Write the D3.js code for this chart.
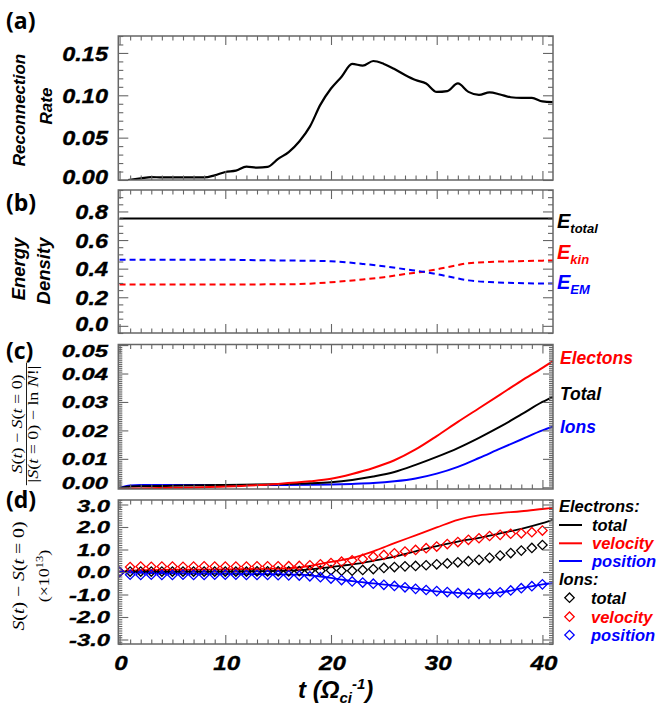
<!DOCTYPE html>
<html>
<head>
<meta charset="utf-8">
<script src="https://cdn.jsdelivr.net/npm/d3@7"></script>
<style>
  body { margin: 0; background: #fff; }
  text { font-family: "Liberation Sans", Arial, sans-serif; }
</style>
</head>
<body>
<div id="chart"></div>
<script>
// ---- values ----

// (a) reconnection rate
const rateTime = [0.8, 2, 3, 4, 5, 6, 7, 8, 9, 10, 11, 12, 13, 14, 15, 16, 17, 18, 19, 20, 21,
  22, 23, 24, 25, 26, 27, 28, 29, 30, 31, 32, 33, 34, 35, 36, 37, 38, 39, 40, 41];
const rateValue = [0, 0.002, 0.0035, 0.003, 0.003, 0.003, 0.003, 0.003, 0.0055, 0.0095, 0.011,
  0.0158, 0.0146, 0.0155, 0.025, 0.033, 0.0455, 0.063, 0.089, 0.108, 0.122, 0.137, 0.135,
  0.1405, 0.137, 0.131, 0.124, 0.118, 0.114, 0.104, 0.105, 0.114, 0.104, 0.1005, 0.1035,
  0.101, 0.0977, 0.097, 0.097, 0.0928, 0.092];

// (b) energy density
const energyTime = [0, 5, 10, 13, 16, 18, 20, 23, 25, 27, 29, 31, 33, 35, 37.5, 40, 41];
const energyTotal = [0.75, 0.75, 0.75, 0.75, 0.75, 0.75, 0.75, 0.75, 0.75, 0.75, 0.75, 0.75,
  0.75, 0.75, 0.75, 0.75, 0.75];
const energyKin = [0.29, 0.29, 0.29, 0.29, 0.291, 0.295, 0.305, 0.324, 0.34, 0.362, 0.382,
  0.41, 0.438, 0.447, 0.452, 0.456, 0.457];
const energyEM = [0.462, 0.462, 0.462, 0.459, 0.457, 0.455, 0.452, 0.433, 0.417, 0.396, 0.375,
  0.347, 0.318, 0.306, 0.3, 0.296, 0.296];

// (c) normalised entropy change
const entropyTime = [0, 1, 2, 5, 10, 15, 18, 20, 22, 24, 26, 28, 30, 32, 34, 36, 38, 40, 41];
const entropyElectrons = [-0.0006, -0.0005, -0.0004, -0.0002, 0.0003, 0.0012, 0.0021, 0.003,
  0.0047, 0.0068, 0.0095, 0.0133, 0.018, 0.023, 0.0278, 0.0326, 0.0374, 0.042, 0.0444];
const entropyTotal = [-0.0002, 0.0003, 0.0004, 0.0005, 0.0008, 0.0011, 0.0014, 0.0018, 0.0026,
  0.0038, 0.0054, 0.0079, 0.0107, 0.0138, 0.0174, 0.0213, 0.0256, 0.03, 0.0318];
const entropyIons = [-0.0002, 0.0006, 0.0008, 0.0008, 0.0008, 0.0008, 0.0009, 0.001, 0.0012,
  0.0015, 0.0021, 0.0031, 0.0048, 0.0072, 0.0103, 0.0136, 0.0168, 0.02, 0.0213];

// (d) entropy change, electrons (lines)
const elecTime = [0, 2, 5, 10, 15, 17, 18, 19, 20, 21, 22, 24, 26, 28, 30, 32, 34, 36, 38, 40, 41];
const elecTotal = [0, 0, 0.01, 0.02, 0.05, 0.08, 0.12, 0.17, 0.22, 0.28, 0.34, 0.5, 0.68, 0.92,
  1.15, 1.35, 1.52, 1.72, 1.92, 2.17, 2.32];
const elecVelocity = [0, 0.08, 0.1, 0.12, 0.15, 0.2, 0.27, 0.36, 0.45, 0.53, 0.63, 0.92, 1.28,
  1.63, 1.98, 2.32, 2.52, 2.62, 2.7, 2.8, 2.85];
const elecPosition = [0, -0.04, -0.06, -0.08, -0.1, -0.12, -0.15, -0.2, -0.26, -0.34, -0.41,
  -0.51, -0.61, -0.74, -0.86, -0.93, -0.97, -0.91, -0.73, -0.55, -0.5];

// (d) entropy change, ions (diamonds)
const ionTime = [0, 1, 2, 3, 4, 5, 6, 7, 8, 9, 10, 11, 12, 13, 14, 15, 16, 17, 18, 19, 20,
  21, 22, 23, 24, 25, 26, 27, 28, 29, 30, 31, 32, 33, 34, 35, 36, 37, 38, 39, 40];
const ionTotal = [0, 0.02, 0.02, 0.02, 0.02, 0.02, 0.02, 0.02, 0.02, 0.02, 0.02, 0.02, 0.02,
  0.03, 0.03, 0.03, 0.03, 0.04, 0.05, 0.06, 0.08, 0.06, 0.06, 0.09, 0.13, 0.18, 0.22, 0.25,
  0.27, 0.3, 0.34, 0.38, 0.43, 0.48, 0.54, 0.63, 0.73, 0.84, 0.95, 1.07, 1.2];
const ionVelocity = [0, 0.22, 0.24, 0.23, 0.24, 0.24, 0.23, 0.24, 0.25, 0.24, 0.24, 0.24, 0.24,
  0.25, 0.25, 0.25, 0.26, 0.27, 0.3, 0.34, 0.4, 0.46, 0.52, 0.58, 0.68, 0.76, 0.83, 0.91, 0.98,
  1.06, 1.13, 1.24, 1.33, 1.43, 1.5, 1.6, 1.65, 1.7, 1.72, 1.77, 1.84];
const ionPosition = [0, -0.12, -0.13, -0.12, -0.13, -0.13, -0.12, -0.13, -0.13, -0.12, -0.12,
  -0.12, -0.13, -0.13, -0.13, -0.14, -0.15, -0.16, -0.19, -0.23, -0.29, -0.36, -0.42, -0.47,
  -0.52, -0.57, -0.62, -0.68, -0.75, -0.8, -0.85, -0.89, -0.93, -0.96, -0.97, -0.95, -0.9,
  -0.82, -0.72, -0.63, -0.55];

// tick values and labels
const timeTicks = [0, 10, 20, 30, 40];
const timeTickLabels = ['0', '10', '20', '30', '40'];
const rateTicks = [0, 0.05, 0.1, 0.15];
const rateTickLabels = ['0.00', '0.05', '0.10', '0.15'];
const energyTicks = [0, 0.2, 0.4, 0.6, 0.8];
const energyTickLabels = ['0.0', '0.2', '0.4', '0.6', '0.8'];
const entropyTicks = [0, 0.01, 0.02, 0.03, 0.04, 0.05];
const entropyTickLabels = ['0.00', '0.01', '0.02', '0.03', '0.04', '0.05'];
const splitTicks = [-3, -2, -1, 0, 1, 2, 3];
const splitTickLabels = ['-3.0', '-2.0', '-1.0', '0.0', '1.0', '2.0', '3.0'];

// ---- layout ----
const width = 661, height = 706;
const plotLeft = 118.3, plotRight = 553;
const frameColor = '#666';
const labelFont = (size) => `italic bold ${size}px "Liberation Sans", Arial, sans-serif`;

const svg = d3.select('#chart').append('svg')
  .attr('width', width)
  .attr('height', height);

// common time axis
const x = d3.scaleLinear().domain([-0.12, 41]).range([plotLeft, plotRight]);
const xMinor = d3.range(1, 41).filter(v => v % 10 !== 0);

// Build one panel: scale, clipped plot group, then ticks and frame on top
function makePanel(p) {
  const y = d3.scaleLinear().domain(p.domain).range([p.bottom, p.top]);
  const g = svg.append('g');

  svg.append('clipPath').attr('id', 'clip-' + p.id)
    .append('rect')
    .attr('x', plotLeft).attr('y', p.top)
    .attr('width', plotRight - plotLeft).attr('height', p.bottom - p.top);

  const plot = g.append('g').attr('clip-path', `url(#clip-${p.id})`);
  const over = g.append('g');

  // draws the ticks after the data is in
  function finish() {
    const ticks = over.append('g').attr('color', frameColor);
    const add = (axis, tx, ty) => ticks.append('g')
      .attr('transform', `translate(${tx},${ty})`)
      .call(axis)
      .call(s => s.select('.domain').remove())
      .call(s => s.selectAll('text').remove())
      .call(s => s.selectAll('line').attr('stroke-width', 1.1));

    add(d3.axisBottom(x).tickValues(timeTicks).tickSize(-9).tickFormat(''), 0, p.bottom);
    add(d3.axisBottom(x).tickValues(xMinor).tickSize(-4.5).tickFormat(''), 0, p.bottom);
    add(d3.axisTop(x).tickValues(timeTicks).tickSize(-9).tickFormat(''), 0, p.top);
    add(d3.axisTop(x).tickValues(xMinor).tickSize(-4.5).tickFormat(''), 0, p.top);

    add(d3.axisLeft(y).tickValues(p.ticks).tickSize(-10).tickFormat(''), plotLeft, 0);
    add(d3.axisLeft(y).tickValues(p.minor).tickSize(-p.minorLen).tickFormat(''), plotLeft, 0);
    add(d3.axisRight(y).tickValues(p.ticks).tickSize(-10).tickFormat(''), plotRight, 0);
    add(d3.axisRight(y).tickValues(p.minor).tickSize(-p.minorLen).tickFormat(''), plotRight, 0);

    over.append('rect')
      .attr('x', plotLeft).attr('y', p.top)
      .attr('width', plotRight - plotLeft).attr('height', p.bottom - p.top)
      .attr('fill', 'none')
      .attr('stroke', frameColor)
      .attr('stroke-width', 1.5);

    // y tick labels, bold italic, a little wider than the plain font,
    // pulled inside the frame at the ends so neighbouring panels don't collide
    const labelY = d => Math.max(p.top + p.padTop, Math.min(p.bottom - p.padBottom, y(d)));
    over.selectAll('text.ylab')
      .data(p.ticks)
      .join('text')
      .attr('class', 'ylab')
      .attr('text-anchor', 'end')
      .attr('transform', d => `translate(${p.labelX},${labelY(d) + p.fontSize * 0.36}) scale(${p.stretch},1)`)
      .attr('stroke', '#000')
      .attr('stroke-width', 0.35)
      .style('font', labelFont(p.fontSize))
      .text((d, i) => p.labels[i]);
  }

  return { y, plot, finish };
}

function drawLine(plot, y, xs, ys, color, w, dash) {
  const line = d3.line()
    .x((d, i) => x(xs[i]))
    .y(d => y(d))
    .curve(d3.curveMonotoneX);
  plot.append('path')
    .datum(ys)
    .attr('d', line)
    .attr('fill', 'none')
    .attr('stroke', color)
    .attr('stroke-width', w)
    .attr('stroke-dasharray', dash || null);
}

// ---- (a) reconnection rate ----
const pa = makePanel({
  id: 'a', top: 36, bottom: 180, domain: [0, 0.17],
  ticks: rateTicks, labels: rateTickLabels,
  minor: d3.range(1, 18).filter(i => i % 5 !== 0).map(i => i * 0.01), minorLen: 5,
  labelX: 108, fontSize: 21, stretch: 1.12, padTop: 0, padBottom: 3.5
});
drawLine(pa.plot, pa.y, rateTime, rateValue, '#000', 2.2);
pa.finish();

// ---- (b) energy density ----
const pb = makePanel({
  id: 'b', top: 190, bottom: 333, domain: [-0.05, 0.95],
  ticks: energyTicks, labels: energyTickLabels,
  minor: d3.range(-1, 20).filter(i => i % 4 !== 0).map(i => i * 0.05), minorLen: 5,
  labelX: 108, fontSize: 21, stretch: 1.12, padTop: 0, padBottom: 10
});
drawLine(pb.plot, pb.y, energyTime, energyTotal, '#000', 2);
drawLine(pb.plot, pb.y, energyTime, energyKin, '#f00', 2, '6,4');
drawLine(pb.plot, pb.y, energyTime, energyEM, '#00f', 2, '6,4');
pb.finish();

// ---- (c) entropy ----
const pc = makePanel({
  id: 'c', top: 344.5, bottom: 489, domain: [-0.0006, 0.0502],
  ticks: entropyTicks, labels: entropyTickLabels,
  minor: d3.range(0, 76).filter(i => i % 15 !== 0).map(i => i * 0.01 / 15), minorLen: 4,
  labelX: 108, fontSize: 17, stretch: 1.4, padTop: 6.5, padBottom: 6
});
drawLine(pc.plot, pc.y, entropyTime, entropyIons, '#00f', 2);
drawLine(pc.plot, pc.y, entropyTime, entropyTotal, '#000', 2);
drawLine(pc.plot, pc.y, entropyTime, entropyElectrons, '#f00', 2);
pc.finish();

// ---- (d) velocity / position split ----
const pd = makePanel({
  id: 'd', top: 500, bottom: 644, domain: [-3.2, 3.2],
  ticks: splitTicks, labels: splitTickLabels,
  minor: d3.range(-32, 33).filter(i => i % 10 !== 0).map(i => i * 0.1), minorLen: 4,
  labelX: 110, fontSize: 17, stretch: 1.4, padTop: 5.5, padBottom: 4
});
drawLine(pd.plot, pd.y, elecTime, elecTotal, '#000', 1.8);
drawLine(pd.plot, pd.y, elecTime, elecVelocity, '#f00', 1.8);
drawLine(pd.plot, pd.y, elecTime, elecPosition, '#00f', 1.8);

const diamond = d3.symbol().type(d3.symbolSquare).size(44);
[[ionTotal, '#000'], [ionVelocity, '#f00'], [ionPosition, '#00f']].forEach(([vals, color]) => {
  pd.plot.append('g')
    .selectAll('path')
    .data(vals)
    .join('path')
    .attr('d', diamond)
    .attr('transform', (d, i) => `translate(${x(ionTime[i])},${pd.y(d)}) rotate(45)`)
    .attr('fill', 'none')
    .attr('stroke', color)
    .attr('stroke-width', 1.3);
});
pd.finish();

// x tick labels under the last panel
svg.append('g')
  .selectAll('text')
  .data(timeTicks)
  .join('text')
  .attr('text-anchor', 'middle')
  .attr('transform', d => `translate(${x(d) + 1.5},670) scale(1.15,1)`)
  .attr('stroke', '#000')
  .attr('stroke-width', 0.35)
  .style('font', labelFont(21))
  .text((d, i) => timeTickLabels[i]);

// x axis title t (Ω_ci^-1)
const xTitle = svg.append('text')
  .attr('x', 298).attr('y', 698)
  .style('font', labelFont(24));
xTitle.append('tspan').text('t (\u03A9');
xTitle.append('tspan').attr('dy', 5).style('font-size', '15px').text('ci');
xTitle.append('tspan').attr('dy', -14).style('font-size', '15px').text('-1');
xTitle.append('tspan').attr('dy', 9).text(')');

// panel letters
const panelLetters = [['(a)', 29], ['(b)', 211], ['(c)', 359], ['(d)', 508]];
svg.append('g')
  .selectAll('text')
  .data(panelLetters)
  .join('text')
  .attr('x', 6)
  .attr('y', d => d[1])
  .style('font', 'bold 23px "Open Sans", "Liberation Sans", sans-serif')
  .text(d => d[0]);

// y axis titles for (a) and (b)
function sideTitle(text, bx, cy, size) {
  svg.append('text')
    .attr('transform', `translate(${bx},${cy}) rotate(-90)`)
    .attr('text-anchor', 'middle')
    .style('font', labelFont(size))
    .text(text);
}
sideTitle('Reconnection', 24.5, 110, 17);
sideTitle('Rate', 52, 106, 17);
sideTitle('Energy', 25, 269, 18.5);
sideTitle('Density', 50, 271, 18.5);

// math titles for (c) and (d)
const serif = '"Liberation Serif", "DejaVu Serif", serif';
function mathText(parent, parts, yPos, size) {
  const t = parent.append('text')
    .attr('x', 0).attr('y', yPos)
    .attr('text-anchor', 'middle')
    .style('font-family', serif)
    .style('font-size', size + 'px');
  parts.forEach(([s, it]) => t.append('tspan').style('font-style', it ? 'italic' : 'normal').text(s));
  return t;
}

const cTitle = svg.append('g').attr('transform', 'translate(0,424) rotate(-90) scale(1.2,1)');
mathText(cTitle, [['S', 1], ['(', 0], ['t', 1], [') \u2212 ', 0], ['S', 1], ['(', 0], ['t', 1], [' = 0)', 0]], 22, 15);
cTitle.append('line')
  .attr('x1', -51).attr('x2', 51).attr('y1', 26.5).attr('y2', 26.5)
  .attr('stroke', '#000').attr('stroke-width', 0.8);
mathText(cTitle, [['|', 0], ['S', 1], ['(', 0], ['t', 1], [' = 0) \u2212 ln ', 0], ['N', 1], ['!|', 0]], 38, 15);

const dTitle = svg.append('g').attr('transform', 'translate(0,576) rotate(-90) scale(1.2,1)');
mathText(dTitle, [['S', 1], ['(', 0], ['t', 1], [') \u2212 ', 0], ['S', 1], ['(', 0], ['t', 1], [' = 0)', 0]], 24, 16.5);
const dScale = mathText(dTitle, [['(\u00D710', 0]], 49, 15);
dScale.append('tspan').attr('dy', -6).style('font-size', '10.5px').text('13');
dScale.append('tspan').attr('dy', 6).text(')');

// legend (b)
const energyLegend = [['total', '#000', 228], ['kin', '#f00', 259], ['EM', '#00f', 289]];
energyLegend.forEach(([sub, color, yb]) => {
  const t = svg.append('text')
    .attr('x', 557).attr('y', yb)
    .attr('fill', color)
    .style('font', labelFont(20));
  t.append('tspan').text('E');
  t.append('tspan').attr('dy', 5).style('font-size', '13px').text(sub);
});

// legend (c)
const entropyLegend = [['Electons', '#f00', 364], ['Total', '#000', 400], ['Ions', '#00f', 433]];
svg.append('g')
  .selectAll('text')
  .data(entropyLegend)
  .join('text')
  .attr('x', 560)
  .attr('y', d => d[2])
  .attr('fill', d => d[1])
  .style('font', labelFont(17.5))
  .text(d => d[0]);

// legend (d)
const splitLegend = svg.append('g').style('font', labelFont(16.5));
splitLegend.append('text').attr('x', 559).attr('y', 511.5).text('Electrons:');
splitLegend.append('text').attr('x', 559).attr('y', 585).text('Ions:');
const lineItems = [['total', '#000', 525], ['velocity', '#f00', 543.3], ['position', '#00f', 561]];
lineItems.forEach(([name, color, yc]) => {
  splitLegend.append('line')
    .attr('x1', 559).attr('x2', 582).attr('y1', yc).attr('y2', yc)
    .attr('stroke', color).attr('stroke-width', 2);
  splitLegend.append('text').attr('x', 592).attr('y', yc + 6).attr('fill', color).text(name);
});
const markItems = [['total', '#000', 597.7], ['velocity', '#f00', 616.7], ['position', '#00f', 635]];
markItems.forEach(([name, color, yc]) => {
  splitLegend.append('path')
    .attr('d', diamond)
    .attr('transform', `translate(569.5,${yc}) rotate(45)`)
    .attr('fill', 'none').attr('stroke', color).attr('stroke-width', 1.3);
  splitLegend.append('text').attr('x', 591).attr('y', yc + 6).attr('fill', color).text(name);
});
</script>
</body>
</html>
